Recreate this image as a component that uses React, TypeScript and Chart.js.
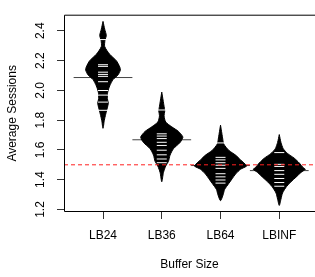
import React, { useEffect, useRef } from 'react';
import { Chart, registerables } from 'chart.js';

Chart.register(...registerables);

// ---------- data ----------
const categories = ['LB24', 'LB36', 'LB64', 'LBINF'];
const yTickValues = [1.2, 1.4, 1.6, 1.8, 2.0, 2.2, 2.4];
const yTickLabels = ['1.2', '1.4', '1.6', '1.8', '2.0', '2.2', '2.4'];
const groupMeans = [2.086, 1.668, 1.495, 1.461];
const referenceLevel = 1.5;

// individual observations (bean lines)
const lb24Obs = [2.341, 2.172, 2.161, 2.122, 2.107, 2.094, 2.058, 1.999, 1.968, 1.921, 1.866];
const lb36Obs = [1.868, 1.708, 1.693, 1.676, 1.651, 1.630, 1.598, 1.567, 1.539, 1.514];
const lb64Obs = [1.647, 1.550, 1.533, 1.514, 1.497, 1.476, 1.440, 1.419, 1.398, 1.377];
const lbinfObs = [1.582, 1.503, 1.489, 1.461, 1.436, 1.408, 1.381, 1.356];

// density outlines: y level and half-width (in category units)
const lb24DensY = [2.463, 2.411, 2.368, 2.337, 2.294, 2.242, 2.199, 2.157, 2.136, 2.104, 2.072, 2.030, 1.988, 1.945, 1.914, 1.882, 1.840, 1.798, 1.745];
const lb24DensW = [0.0, 0.029, 0.056, 0.034, 0.029, 0.114, 0.227, 0.285, 0.295, 0.256, 0.170, 0.114, 0.080, 0.074, 0.090, 0.073, 0.046, 0.022, 0.0];
const lb36DensY = [1.988, 1.935, 1.893, 1.861, 1.829, 1.787, 1.755, 1.724, 1.692, 1.682, 1.650, 1.608, 1.565, 1.523, 1.492, 1.449, 1.386];
const lb36DensW = [0.0, 0.022, 0.039, 0.051, 0.039, 0.068, 0.170, 0.285, 0.353, 0.358, 0.312, 0.199, 0.141, 0.114, 0.068, 0.029, 0.0];
const lb64DensY = [1.766, 1.713, 1.671, 1.639, 1.597, 1.565, 1.533, 1.502, 1.491, 1.470, 1.438, 1.407, 1.375, 1.333, 1.301, 1.259];
const lb64DensW = [0.0, 0.022, 0.039, 0.056, 0.141, 0.256, 0.341, 0.426, 0.443, 0.341, 0.256, 0.199, 0.141, 0.068, 0.046, 0.0];
const lbinfDensY = [1.703, 1.650, 1.608, 1.576, 1.544, 1.512, 1.480, 1.470, 1.449, 1.417, 1.386, 1.354, 1.311, 1.270, 1.227];
const lbinfDensW = [0.0, 0.029, 0.068, 0.141, 0.256, 0.341, 0.409, 0.443, 0.370, 0.285, 0.199, 0.124, 0.056, 0.029, 0.0];

const observations = [lb24Obs, lb36Obs, lb64Obs, lbinfObs];
const densityY = [lb24DensY, lb36DensY, lb64DensY, lbinfDensY];
const densityW = [lb24DensW, lb36DensW, lb64DensW, lbinfDensW];

const X_MIN = 0.336;
const X_MAX = 4.608;
const Y_MIN = 1.183;
const Y_MAX = 2.508;
const MEAN_HALF = 0.5;
const OBS_HALF = 0.085;

const FONT = "'Liberation Sans', Arial, Helvetica, sans-serif";

const framePlugin = {
  id: 'rframe',
  afterDatasetsDraw(chart: any) {
    const { ctx, chartArea: a } = chart;
    ctx.save();
    ctx.strokeStyle = '#000';
    ctx.lineWidth = 1;
    ctx.beginPath();
    ctx.moveTo(chart.width + 5, a.top + 0.5);
    ctx.lineTo(a.left + 0.5, a.top + 0.5);
    ctx.lineTo(a.left + 0.5, a.bottom - 0.5);
    ctx.lineTo(chart.width + 5, a.bottom - 0.5);
    ctx.stroke();
    ctx.restore();
  },
};

function buildDatasets() {
  const ds: any[] = [];
  // reference line
  ds.push({
    data: [{ x: X_MIN, y: referenceLevel }, { x: X_MAX, y: referenceLevel }],
    showLine: true,
    borderColor: '#ff2020',
    borderWidth: 1,
    borderDash: [4, 3],
    pointRadius: 0,
    order: 1,
  });
  categories.forEach((_, i) => {
    const c = i + 1;
    // bean lines
    const lines: any[] = [];
    observations[i].forEach((v) => {
      lines.push({ x: c - OBS_HALF, y: v });
      lines.push({ x: c + OBS_HALF, y: v });
      lines.push({ x: c, y: null });
    });
    ds.push({
      data: lines,
      showLine: true,
      spanGaps: false,
      borderColor: '#ffffff',
      borderWidth: 1,
      pointRadius: 0,
      order: 2,
    });
    // bean polygon
    const ys = densityY[i];
    const ws = densityW[i];
    const poly: any[] = [];
    for (let k = 0; k < ys.length; k++) poly.push({ x: c + ws[k], y: ys[k] });
    for (let k = ys.length - 2; k >= 1; k--) poly.push({ x: c - ws[k], y: ys[k] });
    poly.push({ x: c + ws[0], y: ys[0] });
    ds.push({
      data: poly,
      showLine: true,
      fill: 'shape',
      backgroundColor: '#000',
      borderColor: '#000',
      borderWidth: 1,
      pointRadius: 0,
      tension: 0.25,
      order: 3,
    });
    // group average line
    ds.push({
      data: [{ x: c - MEAN_HALF, y: groupMeans[i] }, { x: c + MEAN_HALF, y: groupMeans[i] }],
      showLine: true,
      borderColor: '#444',
      borderWidth: 1,
      pointRadius: 0,
      order: 4,
    });
  });
  return ds;
}

export default function App() {
  const ref = useRef<HTMLCanvasElement | null>(null);
  useEffect(() => {
    if (!ref.current) return;
    const chart = new Chart(ref.current, {
      type: 'scatter',
      data: { datasets: buildDatasets() },
      options: {
        animation: false,
        responsive: false,
        devicePixelRatio: 1,
        events: [],
        layout: { padding: { top: 3, left: 0, right: 0, bottom: 0 } },
        plugins: { legend: { display: false }, tooltip: { enabled: false } },
        scales: {
          x: {
            type: 'linear',
            min: X_MIN,
            max: X_MAX,
            afterBuildTicks: (s: any) => {
              s.ticks = categories.map((_, i) => ({ value: i + 1 }));
            },
            afterFit: (s: any) => {
              s.height = 65;
            },
            ticks: {
              autoSkip: false,
              maxRotation: 0,
              minRotation: 0,
              padding: 9,
              color: '#000',
              font: { family: FONT, size: 12 },
              callback: (v: any) => categories[Math.round(Number(v)) - 1] ?? '',
            },
            grid: { display: true, drawOnChartArea: false, drawTicks: true, tickLength: 7, color: '#333', lineWidth: 1 },
            border: { display: false },
            title: {
              display: true,
              text: 'Buffer Size',
              color: '#000',
              font: { family: FONT, size: 12 },
              padding: { top: 0, bottom: 5 },
            },
          },
          y: {
            type: 'linear',
            min: Y_MIN,
            max: Y_MAX,
            afterBuildTicks: (s: any) => {
              s.ticks = yTickValues.map((v) => ({ value: v }));
            },
            afterFit: (s: any) => {
              s.width = 64;
            },
            ticks: {
              autoSkip: false,
              minRotation: 90,
              maxRotation: 90,
              crossAlign: 'center',
              padding: 7.5,
              color: '#000',
              font: { family: FONT, size: 12 },
              callback: (v: any) => {
                const idx = yTickValues.findIndex((t) => Math.abs(t - Number(v)) < 1e-6);
                return idx >= 0 ? yTickLabels[idx] : '';
              },
            },
            grid: { display: true, drawOnChartArea: false, drawTicks: true, tickLength: 7, color: '#333', lineWidth: 1 },
            border: { display: false },
            title: {
              display: true,
              text: 'Average Sessions',
              color: '#000',
              font: { family: FONT, size: 12 },
              padding: { top: 5.3, bottom: 0 },
            },
          },
        },
      } as any,
      plugins: [framePlugin],
    });
    return () => chart.destroy();
  }, []);
  return (
    <div style={{ position: 'absolute', left: 0, top: 0, width: 315, height: 277, background: '#fff' }}>
      <canvas ref={ref} width={315} height={277} style={{ display: 'block' }} />
    </div>
  );
}
